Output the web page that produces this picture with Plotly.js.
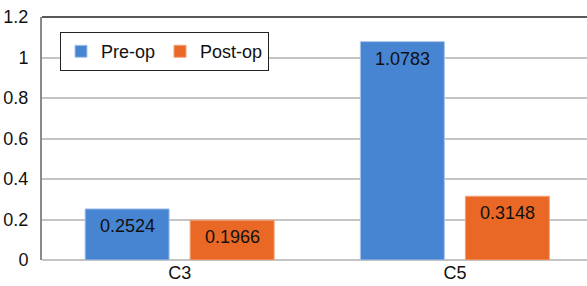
<!DOCTYPE html>
<html><head><meta charset="utf-8">
<script src="https://cdn.plot.ly/plotly-3.0.1.min.js"></script>
<style>html,body{margin:0;padding:0;background:#fff}</style>
</head><body>
<div id="chart" style="width:587px;height:286px"></div>
<script>
var categories = ["C3", "C5"];
var preOp = [0.2524, 1.0783];
var postOp = [0.1966, 0.3148];
var seriesNames = ["Pre-op", "Post-op"];
var yTicks = [0, 0.2, 0.4, 0.6, 0.8, 1, 1.2];
var yTickLabels = ["0", "0.2", "0.4", "0.6", "0.8", "1", "1.2"];

var font = {family: "Liberation Sans, Arial, sans-serif", size: 18, color: "#111"};
var traces = [
  {type: "bar", name: seriesNames[0], x: categories, y: preOp,
   marker: {color: "#4784d1", line: {color: "#a9c6ea", width: 1}}, hoverinfo: "none"},
  {type: "bar", name: seriesNames[1], x: categories, y: postOp,
   marker: {color: "#ea6826", line: {color: "#f3a27a", width: 1}}, hoverinfo: "none"}
];
var annotations = [];
[preOp, postOp].forEach(function (vals, s) {
  vals.forEach(function (v, i) {
    annotations.push({x: categories[i], y: v, xref: "x", yref: "y", text: v.toFixed(4),
      showarrow: false, yanchor: "middle", yshift: -17, xshift: (s === 0 ? -52.5 : 52.5),
      font: font});
  });
});
var layout = {
  width: 587, height: 286,
  margin: {l: 42, r: 0, t: 17, b: 26, pad: 0},
  paper_bgcolor: "#fff", plot_bgcolor: "#fff",
  font: font,
  barmode: "group", bargap: 0.237, bargroupgap: 0.2,
  showlegend: true,
  legend: {orientation: "h", x: 0.033, y: 0.938, xanchor: "left", yanchor: "top",
    bordercolor: "#222", borderwidth: 1, bgcolor: "#fff", font: font,
    itemwidth: 30, tracegroupgap: 0},
  xaxis: {range: [-0.5, 1.48], showgrid: false, zeroline: false, showline: false,
    ticks: "", tickfont: font, fixedrange: true},
  yaxis: {range: [0, 1.2], tickvals: yTicks, ticktext: yTickLabels, showgrid: true,
    gridcolor: "#c4c4c4", gridwidth: 2, zeroline: true, zerolinecolor: "#c4c4c4", zerolinewidth: 2,
    showline: true, linecolor: "#8a8a8a", linewidth: 2, ticks: "", ticklabelstandoff: 8,
    tickfont: font, fixedrange: true},
  shapes: [{type: "line", xref: "paper", yref: "y domain", x0: 0, x1: 1, y0: 1, y1: 1,
    line: {color: "#222", width: 1.5}}],
  annotations: annotations
};
Plotly.newPlot("chart", traces, layout, {displayModeBar: false, staticPlot: true});
</script>
</body></html>
